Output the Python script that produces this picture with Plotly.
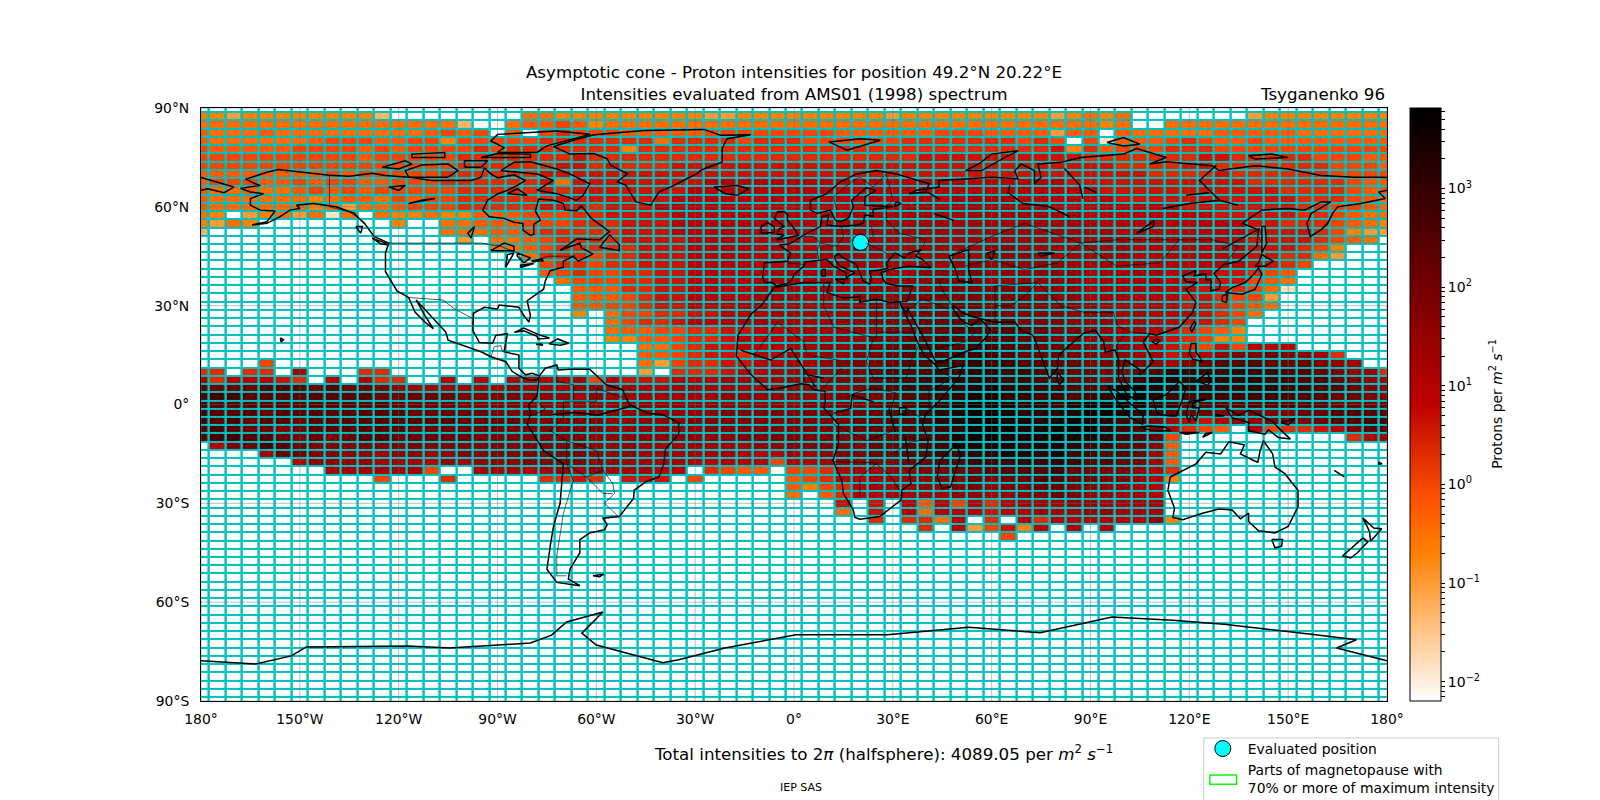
import math
import plotly.graph_objects as go

LON = list(range(-180, 185, 5))
LAT = [90 - 2.5 * j for j in range(73)]

# one letter per cell. "." = nothing arrives there
LEVEL = dict(a=0.015, b=0.05, c=0.1, d=0.2, e=0.35, f=0.6, g=1, h=2, i=4, j=8, k=15,
             l=30, m=60, n=120, o=250, p=500, q=1000, r=2000, s=4000)
FLOOR = 0.00637
CEIL = 6560

# rows from 90N down, lon -180..-65
ROWS_A = [
    "",
    "ddcddddddddb........eedd",
    "eeeeeeeeeeeeeeeeb..effgf",
    "feeefeeeeeeeeefgfg.f.ghg",
    "feeeeeefgggffggdggggghhh",
    "gfffffggggfgfgggghghhhhh",
    "ggggggggggfggggghhhhhhhi",
    "gggggggggggggggghhhhhhii",
    "ffffffffgfggggghhhhhhiii",
    "fgggffgfggffggghhhhhhiei",
    "feefeefgfgfggggghhhhhihi",
    "feeeeeedeffegfgghhhhhhii",
    "feeeeeedeceefggghhhhhiii",
    "ed.cdeceae.eddeddfffgggh",
    "dced........d..eefffgggh",
    "b..............eeeffghhh",
    "................c.eefghh",
    "..................eefghh",
    "....................ehhh",
    ".....................ghh",
    ".....................fgh",
    "......................eg",
    ".......................f",
    ".......................f",
    ".......................f",
    ".......................d",
    "", "", "", "", "",
    "....g",
    "hh.hh.k...hh",
    "khjjjih.j.jhh..j.j.jjjjk",
    "onnnooononnmlkkkkkklkkkl",
    "pppoooooooonnnnnmmmmlllk",
    "pooooooooooonnnnmmmmllll",
    "pooonoooooooonnnnnmmmmml",
    "popnoonooooooooonnnnmmmm",
    "oponnmnoooooonnnnnnmmmmm",
    "oppoonmnmnoonnnnnmmmmmmm",
    ".jmnponmmmmmmmmmmmmmmmmm",
    "....knnmmllkllklmmmmmmmm",
    "......jllllkkkjlklllmmmm",
    "........kkkkkkg..kkkjklk",
    "...........g...h.....hhi",
]
# lon -60..55
ROWS_B = [
    "",
    "dddddddccdddddddddcddddd",
    "deeeeeeeeeeeeeeeeeeeeeee",
    "ggfffffggggggggffffffggg",
    "hhhhehhhhghhhgggggghhhhh",
    "hhdhhhhhhhhhhhhhhhhhhhhh",
    "hhhhhhhhhhhhhhhhhhhhiiii",
    "hihhhiiiiiiiiiiiiiiiiiii",
    "iiiiiiiiiiiiiiiiiiiiiiii",
    "iiiiiiijjjjjjjjjjjjjjjjj",
    "iiiiiijjjjjjjjjjjjjjjjjj",
    "iiiiijjjjjjjjjjjjjjjjjkk",
    "hiiijjjjjjjjjjjjjjjkkkkk",
    "hiiiijjjjjjjjjjjkkkkkkkk",
    "hhiiijjjjjjjjjjkkkkkkkkk",
    "hhiiijjjjjjjjjkkkkkkkkkk",
    "hhiiiijjjjjjjjkkkkkkkkkk",
    "hhhiiijjjjjjjjkkkkkkkkkk",
    "ghhiiijjjjjjkkkkkkkkkkkk",
    "ghhiiijjjjjjkkkkkkkkkkll",
    "gghhiijjjjjkkkkkkkkklllm",
    "gghhiijjjjkkkkkkkklllmmm",
    "ffhhiijjjjkkkkkkkllllmmm",
    "ffghiijjjjkkkkkklllmmmmm",
    "fgghiijjjkkkkkkllmmmmnnn",
    ".egghhiijjjkkkkklllmmmnn",
    ".eghhijjjkkkkkkllmmmnnnn",
    ".effgghhiijjjkkkllmmnnoo",
    ".ddffghhijjjkkkllmmnnooo",
    "...eeghiijjjkkllmmnoooop",
    "...ffghiihjjkkllmmnooopp",
    "...ecghhiijjkklmmmnooppq",
    "...c.hhhijjkkllmmnoooppq",
    "gjiiijjjkkkklllmmnoopqqq",
    "lkkjjkkkkkkkllllmnoppqqr",
    "lkkkkkkklllllllmmmnoopqr",
    "lllllllllllllmmmmnoopqrs",
    "mlllllllmmmmmmmmnnoopqrs",
    "mlllllmmmmmmmmmmnnoopqrs",
    "mllllllmmmmmmmmmnnnoopqs",
    "lllllllllmmmmmmmmnnooprs",
    "lllkkkkkkkllmmmmmnnooprr",
    "lllkkkkkkjjjkklmmnnooppq",
    "llkkkkjjjjjgjjkllmmnnoop",
    "lkkkjj.hgff.gghjkkllmmnn",
    "h.iii.g.....fghjjkkllmmn",
    "............fdghjkkkllmm",
    "............e.fhjjkkkkll",
    "...............i.i.jfjgj",
    "...............e.i.jejjj",
    ".................h.hhej.",
    "....................h.jc",
]
# lon 60..180
ROWS_C = [
    "",
    "ddddcdede.......cdddddddd",
    "eeeeeeede..eeeeeeeeeeeeee",
    "ffffcff.feeeeefffffeeeeee",
    "hhghg.gafffghgffgffffffff",
    "hhhhidhfggghhhggggggggggg",
    "iiiiiihhhhhhhiihhhhhgggff",
    "iiiiiiiihhhhiihhhhhhhgggf",
    "iiiiiiiiiihhhhihhhhhhgggg",
    "jjjjjiiiiiiiiiiihhhhhhgff",
    "jjjjjjjiiiiiiiiiiihhhhgff",
    "kkjjjjjjiiiiiiiiiiihhhgfe",
    "kkkkjjjjjjjjiiiiiiihhggfe",
    "kkkkkkjjjjjjjjiiiiihhgfee",
    "kkkkkkkjjjjjjjjjiihhhgfed",
    "kkkkkkkkjjjjjjjjiiiihgdcc",
    "kkkkkkkkkjjjjjjjiiiihgfe",
    "llkkkkkkkjjjjjjjiiihgd",
    "lllkkkkkkjjjjjjjiihhec",
    "lllllkkkkkjjjjjjiihg",
    "llllllkkkkkjjjiihgf",
    "llllllkkkkkjjjiigfe",
    "mmmlllkkkkjjjiihgea",
    "mmmmllkkkjjjiihggc",
    "mmmmmllkkjjjiihgfe",
    "nmmmmlllkkjjjihge",
    "nnmmmlllkkjjiihg",
    "oonnmmllkkjihgfd",
    "oonnmmllkkjihgdd",
    "poonnmmllkjihgigjjj",
    "ponnnmmllkkijjlmmnmlkh",
    "ppoonnmmmmlkmnooonnnmlk",
    "qppoonnmmnoqqppqppoonmllh",
    "qppoonnmnprrqqqqqppoonmlk",
    "rqqppooorsrqqqqqqqppoonml",
    "rqqppopqssqppppppppoonnmm",
    "srqqprsssrqpooooooooonnnn",
    "srqqqrssrqponnmmmmmnnoooo",
    "srrqrsrqpomkjijllmmmnoopp",
    "ssrrsssqpomjhgf.jghhijmoo",
    "srrrsrrqpong..........hjk",
    "rrqrrqpponlf",
    "qrrqrppoonkf",
    "ppqpqpoonmkf",
    "oooopnnmmljh",
    "mnnoonnmmljd",
    "lmmnnmmllkj",
    "klmmnmllkkj",
    "hjkkkllkkkk",
    "ijjkkkllkkk",
    "h.jhjjjjjjld",
    "gidj.j.j",
    ".g",
]

TICK_LON = [-180, -150, -120, -90, -60, -30, 0, 30, 60, 90, 120, 150, 180]
TICK_LON_TEXT = ["180°", "150°W", "120°W", "90°W", "60°W", "30°W", "0°", "30°E", "60°E", "90°E", "120°E", "150°E", "180°"]
TICK_LAT = [90, 60, 30, 0, -30, -60, -90]
TICK_LAT_TEXT = ["90°N", "60°N", "30°N", "0°", "30°S", "60°S", "90°S"]

POSITION_LON = [20.22]
POSITION_LAT = [49.2]

# outlines, lon/lat traced by eye
NORTH_AMERICA = [(-164.5,54.5),(-160,55.5),(-157.5,58.7),(-162,59),(-165,60.5),(-165,62.5),(-161,64),(-165,64.5),(-168,65.6),(-162,66.5),(-163.5,67),(-166.5,68.4),(-163,69.5),(-160,70.5),(-156.5,71.3),(-150,70.5),(-141,69.6),(-135,69.3),(-128,70.2),(-124,69.5),(-116,68.9),(-110,68),(-104,68),(-98,68),(-95,69),(-94,71.8),(-92,70),(-90,68.8),(-85,69.7),(-81.5,68),(-84,66.5),(-87,65),(-90,63.9),(-93,62),(-94.5,59),(-92.5,57),(-88,56.5),(-85,55.3),(-82.3,55),(-82.2,52.9),(-80,51.3),(-79,51.7),(-79,54.7),(-77,56),(-78.5,58.7),(-77.5,62.4),(-73,62),(-70,61),(-69.5,59),(-66,58.8),(-64.5,60.3),(-61.5,56.5),(-56,52.5),(-59,50),(-66,50.2),(-69,48.3),(-71,46.8),(-65,49),(-64.5,47.5),(-61,45.7),(-65.5,43.5),(-67,45),(-70,43.5),(-70,41.7),(-74,40.6),(-75.5,37.5),(-76,35),(-81,31.5),(-80,27),(-80.5,25),(-82,27),(-83.5,29.5),(-85.5,29.8),(-89.5,30.2),(-90,29),(-94,29.5),(-97.3,27.7),(-97.5,22.5),(-95.5,18.8),(-91.5,18.6),(-90.5,21),(-87,21.5),(-88,16),(-83.5,15),(-83.5,11),(-81.5,9),(-79.5,9.5),(-77.3,8.7),(-78,7.5),(-80,7.3),(-82.5,8.2),(-85.5,10),(-87.5,13),(-92,14.5),(-95,16),(-105,19.5),(-105.7,22),(-109,25.5),(-112.5,29.5),(-114.7,31.7),(-112,27),(-109.5,23),(-112,25),(-115,28),(-117,32.5),(-120.5,34.5),(-124,40.3),(-124,46),(-123,49),(-127.5,51),(-130,54.5),(-133.5,58),(-139,60),(-146,61),(-151,60.5),(-150,59.5),(-153,59),(-156,57),(-160,55),(-164.5,54.5)]
SOUTH_AMERICA = [(-77.3,8.7),(-75.5,11),(-72,12),(-71.5,10.5),(-68,10.7),(-62,10.7),(-57,6),(-52,4.5),(-50,0),(-48,-1),(-44,-2.7),(-40,-3),(-35,-5.5),(-35,-9),(-39,-13.5),(-39.5,-18),(-41,-22),(-45,-23.5),(-48.5,-26),(-48.7,-28.5),(-53,-34),(-58,-34.5),(-56.7,-36.5),(-57.5,-38),(-62,-39),(-65,-41),(-65,-45),(-68,-50),(-68.5,-53),(-65,-55),(-72,-54),(-75,-50),(-74,-43),(-73,-37),(-71,-30),(-70,-18),(-76,-14),(-81,-6),(-80,-3),(-80.5,0),(-78,2.5),(-77.5,7),(-77.3,8.7)]
AFRICA = [(32.3,31.2),(29,31),(25,32),(20,31),(20,32.7),(15,32.3),(10,34),(11,37),(3,37),(-5,35.8),(-6,35.5),(-10,30),(-13,27.5),(-17,21),(-17.5,14.7),(-13,9),(-8,4.5),(-4,5),(2,6.3),(4.5,6),(6,4.5),(9.5,4),(9.5,1),(9,-1),(13.5,-6),(13.5,-12),(11.8,-17),(14.5,-23),(15,-27),(18,-32),(18.5,-34.3),(20,-34.8),(26,-34),(32.5,-29),(32.7,-26),(35.5,-24),(35,-20),(40,-16),(40.7,-11),(39,-6),(40,-3),(44,1),(50,8),(51.3,11.8),(44,10.5),(43,12),(39.5,15),(37,20),(35.5,24),(33.5,28),(32.5,30),(32.3,31.2)]
EURASIA_NORTH = [(-9,37),(-9.5,38.7),(-9,43),(-2,43.5),(-1,46),(-4.5,48.4),(-1.5,48.7),(1.5,50.5),(4,52),(8,54),(8.5,57),(10.5,57.5),(10,54.5),(14,54),(19,54.5),(21,55),(21.5,57.5),(24,57.2),(24,59.3),(30,60),(25,60.2),(21.5,60.5),(21.5,63),(25,65),(22,65.8),(17.5,62),(18,60),(16.5,56.5),(14,55.5),(12.5,56),(11,59),(7,58),(5,59),(5,62),(10,64),(14,67.5),(19,70),(25,71),(31,70),(41,67),(40,64.5),(35,64),(37,65),(44,66),(44,68),(53,68.5),(60,69),(68,68.5),(67,71),(69,73),(73,71),(73,67),(75,69),(74,73),(81,73.5),(87,75),(100,76),(104,77.7),(113,75),(108,73),(113,73.7),(127,72.5),(129,71),(140,72.5),(150,71.5),(160,69.5),(170,69),(178,69),(180,68.9)]
CHUKOTKA = [(-180,68.9),(-175,67.5),(-170,66),(-173,64.3),(-178,65.5),(-180,65)]
EURASIA_EAST = [(180,65),(177.5,64.5),(179.5,62.5),(172,61),(165,60),(163.5,58),(162,55),(160,53),(156.7,51),(155.7,55),(157,58),(163,61.5),(160,61.5),(155,59),(150,59.5),(142,59),(136,55),(141,53),(140.5,48),(135,43.5),(130.5,42.5),(127.5,39.8),(129.5,37),(129,35),(126.5,34.5),(126.5,37.7),(125,38),(125,39.7),(121.5,39),(122,40.7),(118,39),(119,37.3),(122.5,37),(119,35),(122,31),(121,28),(117,23.5),(113,22),(110,21),(108,21.5),(106,19),(109,13),(105,9),(105,10.5),(100.5,13.5),(99.5,10),(100.5,7),(103.5,4),(104,1.3),(101,3),(98.5,8),(98.5,14),(97.5,16.5),(94.5,16),(94,19),(91.5,22.5),(88,21.7),(86,20),(80.3,15),(80,11),(77.5,8),(73,20),(72.5,21),(69,22.5),(67,25),(61,25),(57,26),(54,26.7),(51,28),(48.5,30),(48,29.5),(50,26.5),(51.5,25),(54,24),(56.5,26),(59.7,22.5),(58,20),(55,17),(52,16),(45,13),(43,13),(39,21),(35,28),(34.5,29.5),(34.2,27.8),(32.6,29.9)]
MEDITERRANEAN_NORTH = [(32.3,31.2),(34.3,31.3),(35,33),(36,36),(32,36),(28,36.7),(27,38),(26.5,40),(29,41),(35,42),(41.5,41.5),(39,44),(37,45),(38.5,47),(35,46),(33.5,44.5),(30.7,46),(28,43),(28.5,41.3),(26,40.8),(23,40.5),(23.5,38),(23,36.5),(21,37.5),(19.5,41),(19,42.5),(15,44.5),(13.5,45.7),(12.3,45),(12.5,44),(14,42),(18.5,40),(16.5,39),(16,38),(15.7,40),(12,42),(10,44),(7,43.7),(3.5,43.3),(3,42),(0,39.5),(-0.5,38),(-2,36.7),(-5.5,36),(-6.5,37),(-9,37)]
AUSTRALIA = [(114.2,-22),(113.5,-26),(115.5,-31.5),(115,-34.3),(118,-35),(124,-33),(129,-31.7),(133,-32),(135.5,-34.7),(138,-33),(138,-35.5),(141,-38.3),(146,-39),(150,-37),(153,-31),(153,-26),(149,-21),(146,-19),(145.3,-15),(142.5,-11),(141.5,-14),(140.8,-17.5),(139.5,-17),(135.5,-15),(136.7,-12.2),(132,-11.3),(129.5,-15),(125,-14.5),(122,-18),(114.2,-22)]
GREENLAND = [(-73,78.3),(-68,76),(-60.7,76.2),(-56.7,74.6),(-55.6,72.6),(-50.6,70.1),(-53.6,67.6),(-51,66.5),(-48,61.5),(-43.5,60.5),(-41,64.5),(-36.4,66.5),(-32.4,68.6),(-29.4,70.1),(-28.3,71.1),(-21.8,73.6),(-21.8,77.7),(-20.3,80.7),(-13.2,81.9),(-22.3,81.7),(-27.3,83.5),(-45.5,83.2),(-60.7,81.9),(-66,80.5),(-73,78.3)]
ANTARCTICA = [(-180,-77.8),(-163.4,-78.8),(-152.6,-76.3),(-148,-73.6),(-117,-73.3),(-104.6,-73.9),(-80,-72.4),(-73.6,-70),(-69,-66),(-58,-63),(-64.4,-69.4),(-60,-73),(-39.8,-78.4),(-35,-77.5),(-21,-73.9),(0.6,-69.9),(28.4,-69.9),(53,-67.6),(74.8,-69.3),(96.5,-64.5),(115,-65.5),(130.5,-66.7),(158.3,-69.9),(170.7,-71.4),(164.7,-73.9),(178.5,-77.5),(180,-77.8)]
ISLANDS = [
    [(-80,73.7),(-72,71.5),(-68,70),(-62,67),(-64,63.5),(-66,62),(-72,64),(-78,65),(-73,68),(-78,70),(-89,71),(-85,73.5),(-80,73.7)],
    [(-117,69),(-105,69),(-102,71),(-105,73),(-113,72.7),(-118,71),(-117,69)],
    [(-125,72),(-118,74),(-116,73),(-120,71.5),(-125,72)],
    [(-90,76.5),(-78,76.5),(-75,78.5),(-62,82),(-72,83),(-90,82),(-92,80),(-88,78),(-90,76.5)],
    [(-95,75),(-80,75),(-80,76),(-90,76.2),(-95,75)],
    [(-116,75),(-106,75),(-106,76.5),(-116,76),(-116,75)],
    [(-100,72),(-95,72),(-93,74),(-100,74),(-100,72)],
    [(-59,47.7),(-53,46.7),(-53,48.5),(-56,51.5),(-59,47.7)],
    [(-87,64),(-81,63.5),(-84,65.5),(-87,64)],
    [(-133,54),(-131,54),(-131.5,52),(-133,54)],
    [(-128,50.5),(-124,49),(-123.5,48.5),(-125.5,48.8),(-128,50.5)],
    [(-155.9,20.2),(-155,19.7),(-155.7,19),(-155.9,20.2)],
    [(-84.9,21.9),(-82,23.2),(-77,21),(-74.2,20.2),(-77.7,19.9),(-78,20.7),(-82,22.4),(-84.9,21.9)],
    [(-74.4,18.4),(-71.7,19.9),(-68.4,18.6),(-71,18),(-74.4,18.4)],
    [(-78.3,18.3),(-76.2,18),(-76.9,18.4),(-78.3,18.3)],
    [(-24.3,66),(-20.8,64),(-17.2,63.5),(-13.7,65.5),(-17.2,66.5),(-24.3,66)],
    [(10.6,79.7),(16.1,77.2),(26.2,80.2),(20.2,80.7),(10.6,79.7)],
    [(52,71),(56,73),(60,76),(68,77),(64,75),(57,71),(52,71)],
    [(95,79.5),(100,81),(105,79),(100,78.5),(95,79.5)],
    [(138,75.5),(145,76),(150,75),(140,74.5),(138,75.5)],
    [(-5,50),(1.3,51.3),(0,53.5),(-2,56),(-2,57.7),(-3,58.6),(-5,58.5),(-6,56.5),(-3,54),(-4.5,53.3),(-5,51.7),(-3,51.4),(-5.5,50),(-5,50)],
    [(-10,52),(-6,52.2),(-6,54),(-8,55.2),(-10,54),(-10,52)],
    [(130.9,34),(136,33.5),(140,35),(142,39.5),(141,41.5),(140,40),(137,37),(133,35.5),(130.9,34)],
    [(140,42),(143,42),(145.5,43.5),(142,45.5),(141,43),(140,42)],
    [(130,33),(131.5,33.5),(131.3,31),(130,31.3),(130,33)],
    [(142,46),(143.5,49),(143,54),(142,54),(142,50),(142,46)],
    [(120.2,23),(121.5,25.2),(122,24.5),(120.8,22),(120.2,23)],
    [(108.7,19),(110,20),(111,19.5),(110,18.3),(108.7,19)],
    [(120.5,18.5),(122,18.5),(122,16),(124,13),(121,13.8),(120,15.5),(120.5,18.5)],
    [(122,7),(125.5,9.7),(126.5,7),(125.5,5.8),(124,6.5),(122,7)],
    [(109,1.5),(113,3),(117,7),(119,5),(117.7,1),(116,-3.5),(114,-3.5),(110.2,-2.8),(109,1.5)],
    [(95.3,5.6),(98,4),(103.5,-1),(106,-3),(105.8,-6),(102,-4),(100,-1.5),(97,2.5),(95.3,5.6)],
    [(105.3,-6.8),(108,-6.5),(112.5,-6.8),(114.5,-8),(110,-8),(106.4,-7.4),(105.3,-6.8)],
    [(119,-3),(120,1),(125,1.5),(121,0.5),(121,-1),(123,-1),(122,-5),(120.5,-3),(120,-5.5),(119,-3)],
    [(131,-1),(135,-3.3),(138,-1.7),(145,-5),(148,-8),(150.7,-10.5),(147,-10),(144,-7.7),(143,-9),(138,-8),(138,-5.5),(133,-4),(131,-1)],
    [(148,-5.5),(152,-4.2),(150,-6.2),(148,-5.5)],
    [(124,-10),(127,-8.5),(125,-8.8),(124,-10)],
    [(117,-8.5),(123,-8.5),(119,-9),(117,-8.5)],
    [(128,-3),(130.5,-3.5),(128,-3.5),(128,-3)],
    [(145,-41),(148.3,-41),(148,-43),(146,-43.5),(145,-41)],
    [(172.7,-34.5),(176,-37.5),(178.4,-37.7),(175,-41.5),(174.7,-38.5),(172.7,-34.5)],
    [(172.7,-40.5),(174.2,-41.7),(171,-45),(169,-46.6),(166.5,-46),(172.7,-40.5)],
    [(49.3,-12),(50.5,-15.5),(47.5,-25),(45,-25.5),(43.5,-22),(44.3,-17),(49.3,-12)],
    [(80,9.7),(81.8,7.5),(80.6,6),(79.8,7.5),(80,9.7)],
    [(164,-20),(167,-22),(165.5,-21),(164,-20)],
    [(177.5,-17.5),(178.5,-18),(177.5,-18.2),(177.5,-17.5)],
    [(-61,-52),(-57.7,-51.5),(-59,-52.3),(-61,-52)],
    [(8.5,41),(9.5,41),(9.5,39),(8.5,39),(8.5,41)],
    [(12.5,38),(15.5,38),(15,36.7),(12.5,38)],
]
LAKES = [
    [(-92,46.7),(-85,46.7),(-85,48),(-88,49),(-92,46.7)],
    [(-87.5,41.7),(-85,46),(-87,45.5),(-87.5,41.7)],
    [(-84,46),(-80,44.5),(-82,43),(-84,45),(-84,46)],
    [(-83,41.6),(-79,42.8),(-83,42.3),(-83,41.6)],
    [(-79.7,43.5),(-76.2,43.6),(-76.5,44.2),(-79.7,43.5)],
    [(-98,50.5),(-97,54),(-99,52),(-98,50.5)],
    [(-117,61),(-109,62.5),(-113,62),(-117,61)],
    [(-123,66),(-118,66.5),(-120,65),(-123,66)],
    [(47,45),(53,47),(53,41),(54,37),(50,37.5),(49,41),(47,45)],
    [(58.5,46),(61,46.5),(60,44),(58.5,46)],
    [(103.9,51.9),(109.4,55.9),(109,54),(103.9,51.9)],
    [(74,46),(79,46),(75,45),(74,46)],
    [(30.5,60),(32.5,61),(31,61.5),(30.5,60)],
    [(32,-1),(34,-1),(34,-3),(32,-3),(32,-1)],
    [(28.8,-1.2),(30.8,-8.3)],
    [(33.8,-9.8),(34.8,-17.3)],
]
RIVERS = [
    [(65.5,66.5),(65,64.3),(69.5,61),(77.6,60),(83.7,57)],
    [(82.1,71.6),(86.7,66.6),(87.7,62.5)],
    [(88.2,66),(91.8,64.3)],
    [(128.2,72.6),(123.1,68),(126.6,64.5),(129.2,62),(120,61),(112,59.5)],
    [(119,63.5),(126,64.3)],
    [(134.7,60.5),(129.2,62)],
    [(130.2,47.3),(141.3,53.4)],
    [(42.4,58),(48.5,55.9)],
    [(44.4,62.2),(40.4,64.5)],
    [(-16.2,16.5),(-7.1,13.5),(-1,17),(4,9),(6.5,5.4)],
    [(4,9),(9,8)],
    [(12.1,-2.7),(17.2,-1.2),(17.7,2.9),(24.2,0.8)],
    [(-73.1,-3),(-66.6,-2.4),(-59.5,-3.2),(-55.6,-2.2),(-50,-0.7)],
]
BORDERS = [
    [(-123,49),(-95,49),(-89,48),(-84,46),(-82,43),(-79,43),(-75,45),(-67,45)],
    [(-141,69.6),(-141,60),(-135,58.5),(-130,55)],
    [(-117,32.5),(-106.5,31.7),(-103,29),(-97.3,26)],
    [(-92,14.5),(-91,17.5),(-89,17.9),(-88.5,16)],
    [(-69,-18),(-67,-23),(-70,-33),(-72,-46),(-72,-52),(-69,-52)],
    [(-52,2),(-60,5),(-60,1),(-70,1),(-70,-4),(-74,-8),(-69,-11),(-60,-14),(-58,-20),(-55,-24),(-54.5,-27),(-57.5,-30),(-53.5,-33.8)],
    [(-72,12),(-72,7),(-67,6),(-67,1.5)],
    [(-69,-11),(-69,-18),(-63,-22),(-58,-20)],
    [(-63,-22),(-58,-27),(-55,-27)],
    [(-80,-3.5),(-75.5,-1.5),(-78,1)],
    [(9,37),(9,30),(12,23.5),(25,20),(25,32)],
    [(25,22),(36.8,22)],
    [(24,20),(22,13),(24,8),(34,8),(36,14.4),(38,18)],
    [(-12,15),(-5,25),(3,19),(4,15),(13.5,13.5)],
    [(3,11),(3,6.3)],
    [(8.5,4.7),(14.5,11)],
    [(12,-6),(22,-11),(30,-8),(29.5,-1),(31,3.5),(24,5),(18.5,3.5),(16,2)],
    [(34,-1),(39.5,-4.7)],
    [(41,-1.7),(41,4),(48,8),(43,11)],
    [(11.8,-17.3),(25,-17.7)],
    [(20,-28),(20,-22),(25,-18),(29.5,-22),(32,-26)],
    [(30,-15),(35,-11.5),(40.5,-10.5)],
    [(28,60),(28,56),(32,52),(40,50),(39,47.5)],
    [(47,42),(49,46),(60,51),(70,55),(87,49),(98,50),(107,50),(117,50),(127,50),(135,48),(131,43)],
    [(74,37),(78,33),(81,30),(88,28),(97,28),(98,24),(102,22),(108,21.5)],
    [(61,25),(61,30),(61,36)],
    [(61,36),(74,37),(70,33),(66,30),(61,30)],
    [(44,38),(44,37),(46,33),(48,30)],
    [(35,29),(39,32),(47,29)],
    [(52,24),(55,22),(52,19),(43,17)],
    [(98.5,10),(98,18),(100,21)],
    [(8,49),(6,51),(3,51)],
    [(-2,43),(3,42.5)],
    [(7.5,44),(7,47),(8,49),(13,48),(15,51),(14.5,54)],
    [(24,51),(23.5,54)],
    [(22,49),(28,46)],
    [(87,49),(98,42),(111,43),(117,50)],
    [(52,42),(60,44),(70,41),(80,43),(87,49)],
    [(13,59),(12,63),(18,68),(20,69)],
    [(20,69),(24,66),(28,70),(30,62),(28,60)],
]


def cell_values():
    rows = []
    for j in range(len(LAT)):
        a = ROWS_A[j] if j < len(ROWS_A) else ""
        b = ROWS_B[j] if j < len(ROWS_B) else ""
        c = ROWS_C[j] if j < len(ROWS_C) else ""
        assert len(a) <= 24 and len(b) <= 24 and len(c) <= 25, (j, len(a), len(b), len(c))
        text = a.ljust(24, ".") + b.ljust(24, ".") + c.ljust(25, ".")
        rows.append([math.log10(LEVEL.get(ch, FLOOR)) for ch in text])
    return rows


def joined(lines):
    x, y = [], []
    for line in lines:
        x += [p[0] for p in line] + [None]
        y += [p[1] for p in line] + [None]
    return x, y


def paper_x(px):
    return (px - 200.7) / 1186.6


def paper_y(px):
    return (701 - px) / 593.3


zmin = math.log10(FLOOR)
zmax = math.log10(CEIL)
# gist_heat reversed
scale = [
    [0, "rgb(255,255,255)"],
    [0.25, "rgb(255,128,0)"],
    [1 / 3, "rgb(255,85,0)"],
    [0.5, "rgb(191,0,0)"],
    [1, "rgb(0,0,0)"],
]

cb_vals, cb_text = [], []
for e in range(-3, 4):
    for m in range(1, 10):
        v = m * 10.0 ** e
        if FLOOR <= v <= CEIL:
            cb_vals.append(math.log10(v))
            cb_text.append(f"10<sup>{str(e).replace('-', '−')}</sup>" if m == 1 else "")

fig = go.Figure()
fig.add_heatmap(
    x=LON, y=LAT, z=cell_values(),
    zmin=zmin, zmax=zmax, colorscale=scale,
    xgap=2.5, ygap=2, hoverinfo="skip", showlegend=False,
    colorbar=dict(
        x=paper_x(1410), xanchor="left", xpad=0, y=0.5, yanchor="middle", ypad=0,
        len=1, thickness=31, outlinecolor="black", outlinewidth=1,
        ticks="outside", ticklen=4, tickcolor="black",
        tickvals=cb_vals, ticktext=cb_text, tickfont=dict(size=14),
    ),
)

grid_x, grid_y = [], []
for v in TICK_LON:
    grid_x += [v, v, None]
    grid_y += [-90, 90, None]
for v in TICK_LAT:
    grid_x += [-180, 180, None]
    grid_y += [v, v, None]
fig.add_scatter(x=grid_x, y=grid_y, mode="lines", showlegend=False, hoverinfo="skip",
                line=dict(color="rgba(110,110,110,0.45)", width=1))

fig.add_scatter(
    x=POSITION_LON, y=POSITION_LAT, mode="markers", name="Evaluated position",
    marker=dict(color="#00ffff", size=16, line=dict(color="black", width=1)),
)
# swatch comes from the box drawn below
fig.add_scatter(x=[None], y=[None], mode="lines", line=dict(color="rgba(0,0,0,0)", width=1),
                name="Parts of magnetopause with<br>70% or more of maximum intensity")

bx, by = joined(BORDERS)
fig.add_scatter(x=bx, y=by, mode="lines", showlegend=False, hoverinfo="skip",
                line=dict(color="rgba(0,0,0,0.8)", width=0.8))
cx, cy = joined([NORTH_AMERICA, SOUTH_AMERICA, AFRICA, EURASIA_NORTH, CHUKOTKA, EURASIA_EAST,
                 MEDITERRANEAN_NORTH, AUSTRALIA, GREENLAND, ANTARCTICA] + ISLANDS + LAKES + RIVERS)
fig.add_scatter(x=cx, y=cy, mode="lines", showlegend=False, hoverinfo="skip",
                line=dict(color="black", width=1.5))

fig.add_shape(type="rect", xref="paper", yref="paper", x0=paper_x(1204), x1=paper_x(1499),
              y0=paper_y(806), y1=paper_y(738), line=dict(color="#cccccc", width=1))
fig.add_shape(type="rect", xref="paper", yref="paper", x0=paper_x(1210), x1=paper_x(1236.7),
              y0=paper_y(784.3), y1=paper_y(775), line=dict(color="#00ff00", width=1.4))

fig.add_annotation(x=1, y=1.004, xref="paper", yref="paper", xanchor="right", yanchor="bottom",
                   text="Tsyganenko 96", showarrow=False, font=dict(size=16.7))
fig.add_annotation(x=paper_x(884), y=paper_y(753), xref="paper", yref="paper", xanchor="center", yanchor="middle",
                   text="Total intensities to 2<i>π</i> (halfsphere): 4089.05 per <i>m</i><sup>2</sup> <i>s</i><sup>−1</sup>",
                   showarrow=False, font=dict(size=16.7))
fig.add_annotation(x=paper_x(801), y=paper_y(788), xref="paper", yref="paper", xanchor="center", yanchor="middle",
                   text="IEP SAS", showarrow=False, font=dict(size=11))
fig.add_annotation(x=paper_x(1497), y=paper_y(404), xref="paper", yref="paper", xanchor="center", yanchor="middle",
                   text="Protons per <i>m</i><sup>2</sup> <i>s</i><sup>−1</sup>", textangle=-90,
                   showarrow=False, font=dict(size=13.9))

fig.update_layout(
    width=1600, height=800,
    margin=dict(l=200.7, r=212.7, t=107.7, b=99, autoexpand=False),
    paper_bgcolor="white", plot_bgcolor="#00bfbf",
    font=dict(family="DejaVu Sans", color="black"),
    title=dict(
        text="Asymptotic cone - Proton intensities for position 49.2°N 20.22°E<br>Intensities evaluated from AMS01 (1998) spectrum",
        x=0.5, xref="paper", xanchor="center", y=0.902, yref="container", yanchor="bottom",
        font=dict(size=16.7),
    ),
    legend=dict(
        x=paper_x(1198), xanchor="left", y=paper_y(733), yanchor="top",
        bgcolor="rgba(0,0,0,0)", borderwidth=0,
        font=dict(size=13.9), itemwidth=40, tracegroupgap=0,
    ),
    xaxis=dict(range=[-180, 180], tickmode="array", tickvals=TICK_LON, ticktext=TICK_LON_TEXT,
               showgrid=False, zeroline=False, ticks="", ticklabelstandoff=5,
               showline=True, mirror=True, linecolor="black", linewidth=1,
               tickfont=dict(size=13.9)),
    yaxis=dict(range=[-90, 90], tickmode="array", tickvals=TICK_LAT, ticktext=TICK_LAT_TEXT,
               showgrid=False, zeroline=False, ticks="", ticklabelstandoff=8,
               showline=True, mirror=True, linecolor="black", linewidth=1,
               tickfont=dict(size=13.9)),
)

fig.write_html("out.html", config=dict(displayModeBar=False), post_script="document.body.style.margin='0';")
